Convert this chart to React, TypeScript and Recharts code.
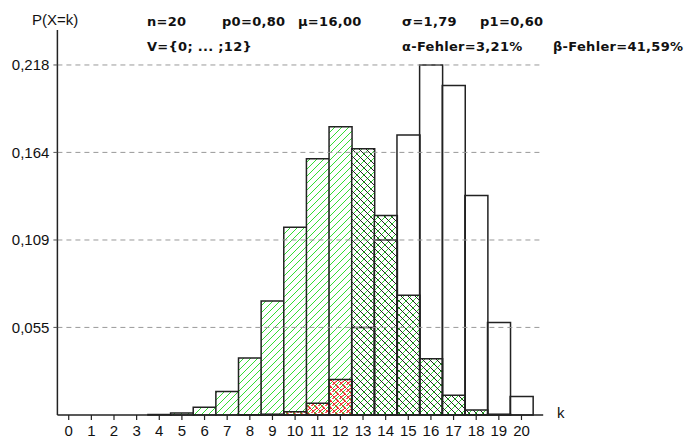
import React from 'react';
import { BarChart, Bar, XAxis, YAxis, ReferenceLine, Cell } from 'recharts';

// Binomial distribution n=20, H0: p0=0.80 (white), H1: p1=0.60 (green)
const kValues = ['0', '1', '2', '3', '4', '5', '6', '7', '8', '9', '10', '11', '12', '13', '14', '15', '16', '17', '18', '19', '20'];
const p0Values = [0, 0, 0, 0, 0, 0, 0, 0, 0.0001, 0.0005, 0.002, 0.0074, 0.0222, 0.0545, 0.1091, 0.1746, 0.2182, 0.2054, 0.1369, 0.0576, 0.0115];
const p1Values = [0, 0, 0, 0, 0.0003, 0.0013, 0.0049, 0.0146, 0.0355, 0.071, 0.1171, 0.1597, 0.1797, 0.1659, 0.1244, 0.0746, 0.035, 0.0123, 0.0031, 0.0005, 0];
const yTicks = [0.0546, 0.1091, 0.1637, 0.2182];
const yTickLabels = ['0,055', '0,109', '0,164', '0,218'];
const rejectionMax = 12; // V = {0; ... ;12}

const headerLine1 = ['n=20', 'p0=0,80', 'μ=16,00', 'σ=1,79', 'p1=0,60'];
const headerLine2 = ['V={0; ... ;12}', 'α-Fehler=3,21%', 'β-Fehler=41,59%'];

const data = kValues.map((k, i) => ({ k, p0: p0Values[i], p1: p1Values[i] }));

const axisFont = { fontFamily: '"Liberation Sans", Arial, sans-serif', fontSize: 15, fill: '#111' };

const headStyle: React.CSSProperties = {
  position: 'absolute',
  fontFamily: '"DejaVu Sans", sans-serif',
  fontWeight: 'bold',
  fontSize: 13,
  lineHeight: '16px',
  letterSpacing: 0.3,
  color: '#111',
  whiteSpace: 'nowrap',
};

export default function App() {
  return (
    <div style={{ position: 'absolute', left: 0, top: 0, width: 699, height: 438, background: '#fff', overflow: 'hidden' }}>
      <BarChart
        width={699}
        height={438}
        data={data}
        margin={{ top: 30, right: 155.8, bottom: 3, left: 7.4 }}
        barCategoryGap={0}
        barGap={0}
      >
        <defs>
          <pattern id="greenHatch" patternUnits="userSpaceOnUse" width="7" height="7">
            <rect width="7" height="7" fill="#fff" />
            <path d="M-1,1 l2,-2 M0,7 l7,-7 M6,8 l2,-2" stroke="#33dd33" strokeWidth="1" />
          </pattern>
          <pattern id="crossHatch" patternUnits="userSpaceOnUse" width="7" height="7">
            <rect width="7" height="7" fill="#fff" />
            <path d="M-1,1 l2,-2 M0,7 l7,-7 M6,8 l2,-2" stroke="#33dd33" strokeWidth="1" />
            <path d="M-1,6 l2,2 M0,0 l7,7 M6,-1 l2,2" stroke="#222" strokeWidth="1" />
          </pattern>
          <pattern id="redHatch" patternUnits="userSpaceOnUse" width="7" height="7">
            <path d="M-1,6 l2,2 M0,0 l7,7 M6,-1 l2,2" stroke="#ee2222" strokeWidth="1" />
            <path d="M2.5,-1 l-3.5,3.5 M7,3.5 l-3.5,3.5 M3.5,7 l3.5,-3.5 M-0.5,4.5 l3,-3" stroke="#ee2222" strokeWidth="1" />
          </pattern>
        </defs>
        <XAxis
          dataKey="k"
          xAxisId={0}
          padding={{ left: 0, right: 10.4 }}
          height={20}
          interval={0}
          tickSize={5}
          tickMargin={5}
          tick={axisFont}
          axisLine={{ stroke: '#222', strokeWidth: 1.5 }}
          tickLine={{ stroke: '#222', strokeWidth: 1.2 }}
        />
        <XAxis dataKey="k" xAxisId={1} padding={{ left: 0, right: 10.4 }} hide />
        <YAxis
          width={50}
          domain={[0, 0.24]}
          ticks={yTicks}
          tickFormatter={(v: number) => yTickLabels[yTicks.indexOf(v)]}
          tickSize={4}
          tickMargin={4}
          tick={axisFont}
          axisLine={{ stroke: '#222', strokeWidth: 1.5 }}
          tickLine={{ stroke: '#555', strokeWidth: 1 }}
        />
        {yTicks.map((t) => (
          <ReferenceLine key={t} y={t} xAxisId={0} stroke="#999" strokeDasharray="5 4" />
        ))}
        <Bar dataKey="p1" xAxisId={1} isAnimationActive={false} stroke="#222" strokeWidth={1.5}>
          {data.map((d, i) => (
            <Cell key={`p1-${i}`} fill={i <= rejectionMax ? 'url(#greenHatch)' : 'url(#crossHatch)'} />
          ))}
        </Bar>
        <Bar dataKey="p0" xAxisId={0} isAnimationActive={false} stroke="#222" strokeWidth={1.5}>
          {data.map((d, i) => (
            <Cell key={`p0-${i}`} fill={i <= rejectionMax ? 'url(#redHatch)' : 'none'} />
          ))}
        </Bar>
      </BarChart>

      <div style={{ position: 'absolute', left: 32, top: 12, fontFamily: '"Liberation Sans", Arial, sans-serif', fontSize: 15, lineHeight: '16px', color: '#111' }}>
        P(X=k)
      </div>
      <div style={{ position: 'absolute', left: 557, top: 405, fontFamily: '"Liberation Sans", Arial, sans-serif', fontSize: 15, lineHeight: '16px', color: '#111' }}>
        k
      </div>

      <div style={{ ...headStyle, left: 147, top: 14 }}>{headerLine1[0]}</div>
      <div style={{ ...headStyle, left: 222, top: 14 }}>{headerLine1[1]}</div>
      <div style={{ ...headStyle, left: 298, top: 14 }}>{headerLine1[2]}</div>
      <div style={{ ...headStyle, left: 402, top: 14 }}>{headerLine1[3]}</div>
      <div style={{ ...headStyle, left: 480, top: 14 }}>{headerLine1[4]}</div>
      <div style={{ ...headStyle, left: 147, top: 39 }}>{headerLine2[0]}</div>
      <div style={{ ...headStyle, left: 402, top: 39 }}>{headerLine2[1]}</div>
      <div style={{ ...headStyle, left: 553, top: 39 }}>{headerLine2[2]}</div>
    </div>
  );
}
